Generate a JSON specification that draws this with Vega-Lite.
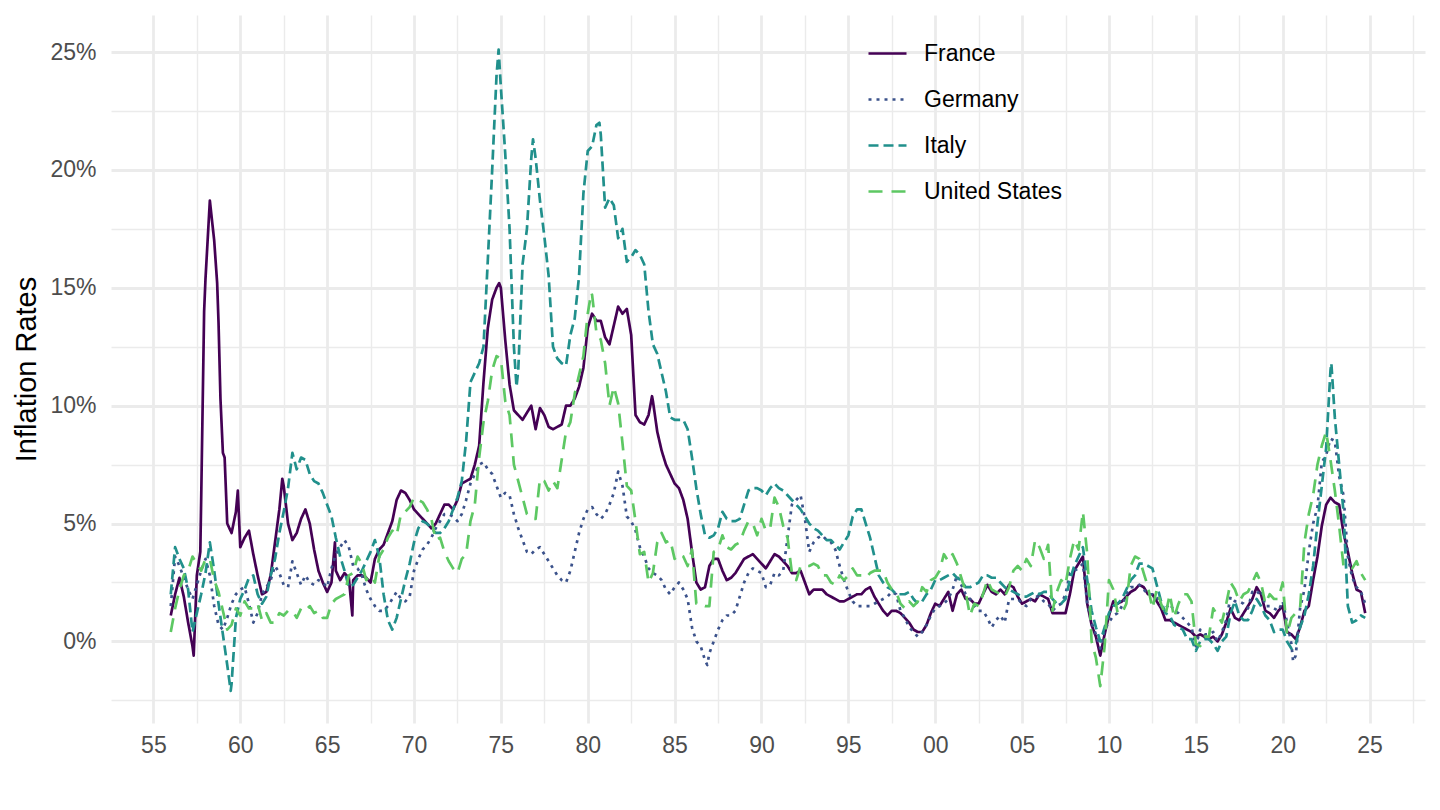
{
"$schema":"https://vega.github.io/schema/vega-lite/v6.json",
"width":1314,"height":708,
"autosize":{"type":"none"},
"padding":{"left":111,"top":15,"right":15,"bottom":87},
"background":"white",
"config":{"view":{"stroke":null},"font":"Liberation Sans"},
"data":{"values":[
{"t":1956.00,"France":1.1,"Germany":1.5,"Italy":2.0,"United States":0.4},
{"t":1956.25,"France":2.0,"Germany":3.6,"Italy":4.0,"United States":1.4},
{"t":1956.50,"France":2.7,"Germany":3.2,"Italy":3.5,"United States":2.2},
{"t":1956.75,"France":1.9,"Germany":2.7,"Italy":3.1,"United States":2.8},
{"t":1957.00,"France":0.8,"Germany":2.2,"Italy":2.2,"United States":3.0},
{"t":1957.25,"France":-0.2,"Germany":1.8,"Italy":0.4,"United States":3.6},
{"t":1957.50,"France":2.8,"Germany":2.4,"Italy":1.2,"United States":3.3},
{"t":1957.75,"France":6.0,"Germany":3.0,"Italy":2.0,"United States":3.0},
{"t":1958.00,"France":15.4,"Germany":3.5,"Italy":2.9,"United States":3.5},
{"t":1958.25,"France":18.7,"Germany":2.8,"Italy":4.2,"United States":3.5},
{"t":1958.50,"France":17.0,"Germany":1.5,"Italy":3.0,"United States":2.6},
{"t":1958.75,"France":13.5,"Germany":0.7,"Italy":1.6,"United States":2.1},
{"t":1959.00,"France":8.0,"Germany":0.5,"Italy":0.3,"United States":1.3},
{"t":1959.25,"France":5.0,"Germany":1.0,"Italy":-1.0,"United States":0.5},
{"t":1959.50,"France":4.6,"Germany":1.6,"Italy":-1.8,"United States":0.7},
{"t":1959.75,"France":5.5,"Germany":2.0,"Italy":1.0,"United States":1.4},
{"t":1960.00,"France":4.0,"Germany":2.2,"Italy":1.8,"United States":1.1},
{"t":1960.25,"France":4.4,"Germany":2.3,"Italy":2.2,"United States":1.7},
{"t":1960.50,"France":4.7,"Germany":1.6,"Italy":2.7,"United States":1.4},
{"t":1960.75,"France":3.7,"Germany":0.8,"Italy":2.8,"United States":1.4},
{"t":1961.00,"France":2.8,"Germany":1.2,"Italy":2.0,"United States":1.6},
{"t":1961.25,"France":2.0,"Germany":2.0,"Italy":1.6,"United States":0.9},
{"t":1961.50,"France":2.1,"Germany":2.3,"Italy":1.9,"United States":1.2},
{"t":1961.75,"France":2.8,"Germany":2.6,"Italy":2.8,"United States":0.8},
{"t":1962.00,"France":4.2,"Germany":3.2,"Italy":3.5,"United States":0.8},
{"t":1962.25,"France":5.6,"Germany":2.9,"Italy":4.6,"United States":1.2},
{"t":1962.50,"France":6.6,"Germany":2.4,"Italy":5.5,"United States":1.1},
{"t":1962.75,"France":5.0,"Germany":2.3,"Italy":6.5,"United States":1.3},
{"t":1963.00,"France":4.3,"Germany":3.4,"Italy":8.0,"United States":1.3},
{"t":1963.25,"France":4.6,"Germany":2.9,"Italy":7.3,"United States":1.0},
{"t":1963.50,"France":5.2,"Germany":2.4,"Italy":7.8,"United States":1.4},
{"t":1963.75,"France":5.6,"Germany":2.8,"Italy":7.7,"United States":1.3},
{"t":1964.00,"France":5.0,"Germany":2.5,"Italy":7.1,"United States":1.5},
{"t":1964.25,"France":3.9,"Germany":2.4,"Italy":6.8,"United States":1.2},
{"t":1964.50,"France":3.0,"Germany":2.6,"Italy":6.7,"United States":1.3},
{"t":1964.75,"France":2.5,"Germany":2.5,"Italy":6.3,"United States":1.0},
{"t":1965.00,"France":2.1,"Germany":2.3,"Italy":5.8,"United States":1.0},
{"t":1965.25,"France":2.5,"Germany":3.1,"Italy":5.3,"United States":1.6},
{"t":1965.50,"France":3.0,"Germany":3.7,"Italy":4.4,"United States":1.8},
{"t":1965.75,"France":2.6,"Germany":4.0,"Italy":3.6,"United States":1.9},
{"t":1966.00,"France":2.9,"Germany":4.3,"Italy":3.0,"United States":2.0},
{"t":1966.25,"France":2.7,"Germany":4.0,"Italy":2.3,"United States":2.8},
{"t":1966.50,"France":2.6,"Germany":3.2,"Italy":2.4,"United States":2.9},
{"t":1966.75,"France":2.8,"Germany":3.1,"Italy":2.7,"United States":3.6},
{"t":1967.00,"France":2.8,"Germany":2.8,"Italy":3.0,"United States":3.3},
{"t":1967.25,"France":2.7,"Germany":2.2,"Italy":3.4,"United States":2.6},
{"t":1967.50,"France":2.5,"Germany":1.8,"Italy":3.8,"United States":2.8},
{"t":1967.75,"France":3.5,"Germany":1.5,"Italy":4.3,"United States":2.5},
{"t":1968.00,"France":3.9,"Germany":1.3,"Italy":3.6,"United States":3.6},
{"t":1968.25,"France":4.1,"Germany":1.3,"Italy":2.0,"United States":3.9},
{"t":1968.50,"France":4.6,"Germany":1.5,"Italy":0.9,"United States":4.4},
{"t":1968.75,"France":5.1,"Germany":1.8,"Italy":0.5,"United States":4.7},
{"t":1969.00,"France":6.0,"Germany":2.1,"Italy":1.0,"United States":4.5},
{"t":1969.25,"France":6.4,"Germany":1.8,"Italy":1.8,"United States":5.4},
{"t":1969.50,"France":6.3,"Germany":1.7,"Italy":2.6,"United States":5.5},
{"t":1969.75,"France":6.0,"Germany":1.9,"Italy":3.3,"United States":5.7},
{"t":1970.00,"France":5.6,"Germany":3.0,"Italy":4.2,"United States":6.1},
{"t":1970.25,"France":5.4,"Germany":3.5,"Italy":4.8,"United States":6.0},
{"t":1970.50,"France":5.2,"Germany":3.9,"Italy":5.1,"United States":5.9},
{"t":1970.75,"France":5.0,"Germany":4.1,"Italy":5.0,"United States":5.6},
{"t":1971.00,"France":4.8,"Germany":4.4,"Italy":4.8,"United States":5.2},
{"t":1971.25,"France":5.0,"Germany":4.8,"Italy":4.6,"United States":4.3},
{"t":1971.50,"France":5.4,"Germany":5.1,"Italy":4.6,"United States":4.4},
{"t":1971.75,"France":5.8,"Germany":5.4,"Italy":4.8,"United States":3.8},
{"t":1972.00,"France":5.8,"Germany":5.4,"Italy":5.1,"United States":3.4},
{"t":1972.25,"France":5.6,"Germany":5.3,"Italy":5.6,"United States":3.1},
{"t":1972.50,"France":6.0,"Germany":5.1,"Italy":6.1,"United States":2.9},
{"t":1972.75,"France":6.7,"Germany":5.4,"Italy":6.8,"United States":3.5},
{"t":1973.00,"France":6.8,"Germany":6.0,"Italy":8.5,"United States":3.7},
{"t":1973.25,"France":6.9,"Germany":6.7,"Italy":11.0,"United States":5.1},
{"t":1973.50,"France":7.5,"Germany":7.1,"Italy":11.4,"United States":5.8},
{"t":1973.75,"France":8.3,"Germany":7.5,"Italy":11.8,"United States":7.8},
{"t":1974.00,"France":11.0,"Germany":7.6,"Italy":12.5,"United States":9.3},
{"t":1974.25,"France":13.3,"Germany":7.3,"Italy":16.2,"United States":10.2},
{"t":1974.50,"France":14.5,"Germany":7.1,"Italy":20.0,"United States":11.5},
{"t":1974.75,"France":15.0,"Germany":6.6,"Italy":24.0,"United States":12.1},
{"t":1975.00,"France":15.0,"Germany":6.1,"Italy":23.5,"United States":12.0},
{"t":1975.25,"France":12.8,"Germany":6.3,"Italy":20.7,"United States":10.2},
{"t":1975.50,"France":10.9,"Germany":6.2,"Italy":17.5,"United States":9.6},
{"t":1975.75,"France":9.8,"Germany":5.4,"Italy":12.5,"United States":7.5},
{"t":1976.00,"France":9.6,"Germany":4.8,"Italy":11.5,"United States":6.8},
{"t":1976.25,"France":9.4,"Germany":4.3,"Italy":16.0,"United States":6.1},
{"t":1976.50,"France":9.7,"Germany":3.8,"Italy":17.5,"United States":5.4},
{"t":1976.75,"France":10.0,"Germany":3.7,"Italy":20.5,"United States":5.2},
{"t":1977.00,"France":9.0,"Germany":3.9,"Italy":20.5,"United States":5.2},
{"t":1977.25,"France":9.9,"Germany":4.0,"Italy":18.7,"United States":6.9},
{"t":1977.50,"France":9.6,"Germany":3.7,"Italy":17.2,"United States":6.8},
{"t":1977.75,"France":9.1,"Germany":3.4,"Italy":15.5,"United States":6.4},
{"t":1978.00,"France":9.0,"Germany":3.1,"Italy":12.5,"United States":6.8},
{"t":1978.25,"France":9.1,"Germany":2.8,"Italy":12.0,"United States":6.5},
{"t":1978.50,"France":9.2,"Germany":2.6,"Italy":11.8,"United States":7.7},
{"t":1978.75,"France":10.0,"Germany":2.5,"Italy":11.7,"United States":8.9},
{"t":1979.00,"France":10.0,"Germany":3.0,"Italy":13.0,"United States":9.3},
{"t":1979.25,"France":10.3,"Germany":3.8,"Italy":13.7,"United States":10.5},
{"t":1979.50,"France":10.8,"Germany":4.6,"Italy":15.5,"United States":11.3},
{"t":1979.75,"France":11.6,"Germany":5.2,"Italy":19.0,"United States":12.1},
{"t":1980.00,"France":13.3,"Germany":5.6,"Italy":20.8,"United States":13.9},
{"t":1980.25,"France":13.9,"Germany":5.7,"Italy":21.0,"United States":14.7},
{"t":1980.50,"France":13.6,"Germany":5.4,"Italy":21.9,"United States":13.1},
{"t":1980.75,"France":13.6,"Germany":5.2,"Italy":21.5,"United States":12.8},
{"t":1981.00,"France":12.9,"Germany":5.4,"Italy":18.4,"United States":11.8},
{"t":1981.25,"France":12.6,"Germany":5.8,"Italy":18.8,"United States":10.0},
{"t":1981.50,"France":13.4,"Germany":6.3,"Italy":18.5,"United States":10.8},
{"t":1981.75,"France":14.2,"Germany":7.2,"Italy":17.1,"United States":10.1},
{"t":1982.00,"France":13.9,"Germany":6.6,"Italy":17.5,"United States":8.4},
{"t":1982.25,"France":14.1,"Germany":5.3,"Italy":16.1,"United States":6.6},
{"t":1982.50,"France":13.0,"Germany":5.1,"Italy":16.3,"United States":6.4},
{"t":1982.75,"France":9.6,"Germany":4.7,"Italy":16.6,"United States":5.1},
{"t":1983.00,"France":9.3,"Germany":4.0,"Italy":16.4,"United States":3.7},
{"t":1983.25,"France":9.2,"Germany":3.6,"Italy":16.0,"United States":3.8},
{"t":1983.50,"France":9.6,"Germany":3.1,"Italy":14.0,"United States":2.5},
{"t":1983.75,"France":10.2,"Germany":2.9,"Italy":12.6,"United States":2.9},
{"t":1984.00,"France":8.9,"Germany":2.8,"Italy":12.2,"United States":4.2},
{"t":1984.25,"France":8.1,"Germany":2.6,"Italy":11.4,"United States":4.6},
{"t":1984.50,"France":7.5,"Germany":2.2,"Italy":10.6,"United States":4.2},
{"t":1984.75,"France":7.1,"Germany":2.0,"Italy":9.5,"United States":4.3},
{"t":1985.00,"France":6.7,"Germany":2.3,"Italy":9.4,"United States":3.5},
{"t":1985.25,"France":6.5,"Germany":2.5,"Italy":9.4,"United States":3.7},
{"t":1985.50,"France":6.0,"Germany":2.2,"Italy":9.4,"United States":3.6},
{"t":1985.75,"France":5.2,"Germany":1.8,"Italy":9.0,"United States":3.2},
{"t":1986.00,"France":3.8,"Germany":0.6,"Italy":7.8,"United States":3.9},
{"t":1986.25,"France":2.5,"Germany":0.0,"Italy":6.5,"United States":1.6},
{"t":1986.50,"France":2.2,"Germany":-0.2,"Italy":5.4,"United States":1.6},
{"t":1986.75,"France":2.3,"Germany":-0.8,"Italy":4.5,"United States":1.5},
{"t":1987.00,"France":3.2,"Germany":-0.5,"Italy":4.4,"United States":1.5},
{"t":1987.25,"France":3.5,"Germany":0.0,"Italy":4.5,"United States":3.8},
{"t":1987.50,"France":3.5,"Germany":0.5,"Italy":4.8,"United States":3.9},
{"t":1987.75,"France":3.0,"Germany":0.9,"Italy":5.5,"United States":4.5},
{"t":1988.00,"France":2.6,"Germany":1.1,"Italy":5.2,"United States":4.0},
{"t":1988.25,"France":2.7,"Germany":1.1,"Italy":5.1,"United States":3.9},
{"t":1988.50,"France":2.9,"Germany":1.3,"Italy":5.1,"United States":4.1},
{"t":1988.75,"France":3.2,"Germany":1.9,"Italy":5.2,"United States":4.2},
{"t":1989.00,"France":3.5,"Germany":2.5,"Italy":5.8,"United States":4.7},
{"t":1989.25,"France":3.6,"Germany":2.9,"Italy":6.4,"United States":5.1},
{"t":1989.50,"France":3.7,"Germany":3.1,"Italy":6.5,"United States":5.0},
{"t":1989.75,"France":3.5,"Germany":3.0,"Italy":6.5,"United States":4.5},
{"t":1990.00,"France":3.3,"Germany":2.9,"Italy":6.4,"United States":5.2},
{"t":1990.25,"France":3.1,"Germany":2.3,"Italy":6.2,"United States":4.7},
{"t":1990.50,"France":3.4,"Germany":2.4,"Italy":6.5,"United States":4.8},
{"t":1990.75,"France":3.7,"Germany":2.9,"Italy":6.7,"United States":6.1},
{"t":1991.00,"France":3.6,"Germany":2.8,"Italy":6.5,"United States":5.7},
{"t":1991.25,"France":3.4,"Germany":3.0,"Italy":6.4,"United States":4.9},
{"t":1991.50,"France":3.2,"Germany":4.4,"Italy":6.2,"United States":4.4},
{"t":1991.75,"France":2.9,"Germany":5.8,"Italy":6.0,"United States":2.9},
{"t":1992.00,"France":2.9,"Germany":6.0,"Italy":5.8,"United States":2.6},
{"t":1992.25,"France":3.0,"Germany":6.2,"Italy":5.6,"United States":3.2},
{"t":1992.50,"France":2.5,"Germany":5.2,"Italy":5.3,"United States":3.2},
{"t":1992.75,"France":2.0,"Germany":3.8,"Italy":5.0,"United States":3.2},
{"t":1993.00,"France":2.2,"Germany":4.2,"Italy":4.8,"United States":3.3},
{"t":1993.25,"France":2.2,"Germany":4.4,"Italy":4.7,"United States":3.2},
{"t":1993.50,"France":2.2,"Germany":4.5,"Italy":4.5,"United States":2.8},
{"t":1993.75,"France":2.0,"Germany":4.3,"Italy":4.3,"United States":2.8},
{"t":1994.00,"France":1.9,"Germany":4.2,"Italy":4.3,"United States":2.5},
{"t":1994.25,"France":1.8,"Germany":3.9,"Italy":4.1,"United States":2.4},
{"t":1994.50,"France":1.7,"Germany":3.2,"Italy":3.9,"United States":2.8},
{"t":1994.75,"France":1.7,"Germany":2.6,"Italy":4.2,"United States":2.6},
{"t":1995.00,"France":1.8,"Germany":2.1,"Italy":4.5,"United States":2.8},
{"t":1995.25,"France":1.9,"Germany":1.7,"Italy":5.3,"United States":3.1},
{"t":1995.50,"France":2.0,"Germany":1.5,"Italy":5.6,"United States":2.8},
{"t":1995.75,"France":2.0,"Germany":1.5,"Italy":5.6,"United States":2.8},
{"t":1996.00,"France":2.2,"Germany":1.5,"Italy":5.0,"United States":2.7},
{"t":1996.25,"France":2.3,"Germany":1.5,"Italy":4.4,"United States":2.9},
{"t":1996.50,"France":1.9,"Germany":1.6,"Italy":3.6,"United States":3.0},
{"t":1996.75,"France":1.6,"Germany":1.7,"Italy":2.8,"United States":3.0},
{"t":1997.00,"France":1.3,"Germany":1.8,"Italy":2.5,"United States":3.0},
{"t":1997.25,"France":1.1,"Germany":1.9,"Italy":2.3,"United States":2.5},
{"t":1997.50,"France":1.3,"Germany":2.1,"Italy":2.2,"United States":2.2},
{"t":1997.75,"France":1.3,"Germany":2.0,"Italy":2.0,"United States":2.1},
{"t":1998.00,"France":1.2,"Germany":1.3,"Italy":2.0,"United States":1.6},
{"t":1998.25,"France":1.0,"Germany":1.0,"Italy":2.0,"United States":1.4},
{"t":1998.50,"France":0.8,"Germany":0.6,"Italy":2.1,"United States":1.7},
{"t":1998.75,"France":0.5,"Germany":0.4,"Italy":1.8,"United States":1.5},
{"t":1999.00,"France":0.4,"Germany":0.2,"Italy":1.6,"United States":1.7},
{"t":1999.25,"France":0.4,"Germany":0.4,"Italy":1.7,"United States":2.3},
{"t":1999.50,"France":0.7,"Germany":0.7,"Italy":2.0,"United States":2.1},
{"t":1999.75,"France":1.2,"Germany":1.1,"Italy":2.2,"United States":2.6},
{"t":2000.00,"France":1.6,"Germany":1.4,"Italy":2.6,"United States":2.7},
{"t":2000.25,"France":1.5,"Germany":1.5,"Italy":2.6,"United States":3.0},
{"t":2000.50,"France":1.8,"Germany":1.6,"Italy":2.7,"United States":3.7},
{"t":2000.75,"France":2.1,"Germany":1.8,"Italy":2.8,"United States":3.4},
{"t":2001.00,"France":1.3,"Germany":2.2,"Italy":2.9,"United States":3.7},
{"t":2001.25,"France":2.0,"Germany":2.8,"Italy":2.7,"United States":3.3},
{"t":2001.50,"France":2.2,"Germany":2.4,"Italy":2.6,"United States":2.7},
{"t":2001.75,"France":1.8,"Germany":2.0,"Italy":2.3,"United States":2.1},
{"t":2002.00,"France":1.8,"Germany":1.8,"Italy":2.3,"United States":1.1},
{"t":2002.25,"France":1.6,"Germany":1.5,"Italy":2.4,"United States":1.6},
{"t":2002.50,"France":1.6,"Germany":1.3,"Italy":2.5,"United States":1.5},
{"t":2002.75,"France":2.0,"Germany":1.3,"Italy":2.8,"United States":2.0},
{"t":2003.00,"France":2.4,"Germany":1.0,"Italy":2.8,"United States":2.6},
{"t":2003.25,"France":2.1,"Germany":0.6,"Italy":2.7,"United States":2.2},
{"t":2003.50,"France":2.0,"Germany":0.9,"Italy":2.7,"United States":2.1},
{"t":2003.75,"France":2.2,"Germany":1.1,"Italy":2.5,"United States":2.0},
{"t":2004.00,"France":2.0,"Germany":0.8,"Italy":2.3,"United States":1.9},
{"t":2004.25,"France":2.4,"Germany":1.8,"Italy":2.2,"United States":2.3},
{"t":2004.50,"France":2.3,"Germany":1.8,"Italy":2.1,"United States":3.0},
{"t":2004.75,"France":1.9,"Germany":1.8,"Italy":2.0,"United States":3.2},
{"t":2005.00,"France":1.6,"Germany":1.6,"Italy":1.9,"United States":3.0},
{"t":2005.25,"France":1.7,"Germany":1.5,"Italy":1.9,"United States":3.5},
{"t":2005.50,"France":1.8,"Germany":1.8,"Italy":2.0,"United States":3.2},
{"t":2005.75,"France":1.7,"Germany":1.9,"Italy":2.1,"United States":4.3},
{"t":2006.00,"France":2.0,"Germany":1.9,"Italy":2.0,"United States":4.0},
{"t":2006.25,"France":1.9,"Germany":1.7,"Italy":2.1,"United States":3.5},
{"t":2006.50,"France":1.8,"Germany":1.6,"Italy":2.1,"United States":4.1},
{"t":2006.75,"France":1.2,"Germany":1.3,"Italy":1.8,"United States":1.3},
{"t":2007.00,"France":1.2,"Germany":1.5,"Italy":1.6,"United States":2.1},
{"t":2007.25,"France":1.2,"Germany":1.6,"Italy":1.6,"United States":2.6},
{"t":2007.50,"France":1.2,"Germany":2.0,"Italy":1.8,"United States":2.4},
{"t":2007.75,"France":2.0,"Germany":2.9,"Italy":2.6,"United States":3.5},
{"t":2008.00,"France":3.0,"Germany":3.0,"Italy":3.2,"United States":4.3},
{"t":2008.25,"France":3.3,"Germany":3.1,"Italy":3.6,"United States":3.9},
{"t":2008.50,"France":3.6,"Germany":3.3,"Italy":4.0,"United States":5.5},
{"t":2008.75,"France":1.6,"Germany":1.6,"Italy":2.6,"United States":3.7},
{"t":2009.00,"France":0.7,"Germany":0.8,"Italy":1.3,"United States":0.0},
{"t":2009.25,"France":0.2,"Germany":0.3,"Italy":0.6,"United States":-0.7},
{"t":2009.50,"France":-0.6,"Germany":-0.3,"Italy":0.0,"United States":-1.9},
{"t":2009.75,"France":0.3,"Germany":0.5,"Italy":0.6,"United States":-0.2},
{"t":2010.00,"France":1.1,"Germany":0.8,"Italy":1.2,"United States":2.6},
{"t":2010.25,"France":1.7,"Germany":1.1,"Italy":1.5,"United States":2.2},
{"t":2010.50,"France":1.6,"Germany":1.2,"Italy":1.6,"United States":1.2},
{"t":2010.75,"France":1.7,"Germany":1.5,"Italy":1.8,"United States":1.2},
{"t":2011.00,"France":1.9,"Germany":2.0,"Italy":2.2,"United States":1.6},
{"t":2011.25,"France":2.1,"Germany":2.3,"Italy":2.6,"United States":3.2},
{"t":2011.50,"France":2.2,"Germany":2.3,"Italy":2.8,"United States":3.6},
{"t":2011.75,"France":2.4,"Germany":2.4,"Italy":3.3,"United States":3.5},
{"t":2012.00,"France":2.3,"Germany":2.2,"Italy":3.3,"United States":2.9},
{"t":2012.25,"France":2.0,"Germany":2.0,"Italy":3.2,"United States":2.3},
{"t":2012.50,"France":2.0,"Germany":2.0,"Italy":3.1,"United States":1.4},
{"t":2012.75,"France":1.7,"Germany":1.9,"Italy":2.4,"United States":2.2},
{"t":2013.00,"France":1.4,"Germany":1.5,"Italy":1.7,"United States":1.6},
{"t":2013.25,"France":0.9,"Germany":1.4,"Italy":1.2,"United States":1.1},
{"t":2013.50,"France":0.9,"Germany":1.6,"Italy":1.1,"United States":2.0},
{"t":2013.75,"France":0.8,"Germany":1.3,"Italy":0.7,"United States":1.0},
{"t":2014.00,"France":0.7,"Germany":1.2,"Italy":0.6,"United States":1.6},
{"t":2014.25,"France":0.6,"Germany":1.0,"Italy":0.5,"United States":2.0},
{"t":2014.50,"France":0.5,"Germany":0.8,"Italy":0.1,"United States":2.0},
{"t":2014.75,"France":0.4,"Germany":0.6,"Italy":0.1,"United States":1.7},
{"t":2015.00,"France":0.2,"Germany":-0.2,"Italy":-0.4,"United States":-0.1},
{"t":2015.25,"France":0.3,"Germany":0.5,"Italy":0.0,"United States":-0.2},
{"t":2015.50,"France":0.2,"Germany":0.3,"Italy":0.1,"United States":0.2},
{"t":2015.75,"France":0.1,"Germany":0.3,"Italy":0.1,"United States":0.2},
{"t":2016.00,"France":0.2,"Germany":0.4,"Italy":-0.1,"United States":1.4},
{"t":2016.25,"France":0.0,"Germany":0.0,"Italy":-0.4,"United States":1.1},
{"t":2016.50,"France":0.3,"Germany":0.4,"Italy":0.0,"United States":0.8},
{"t":2016.75,"France":0.8,"Germany":0.9,"Italy":0.2,"United States":1.6},
{"t":2017.00,"France":1.4,"Germany":1.9,"Italy":1.2,"United States":2.5},
{"t":2017.25,"France":1.0,"Germany":1.7,"Italy":1.7,"United States":2.2},
{"t":2017.50,"France":0.9,"Germany":1.7,"Italy":1.1,"United States":1.7},
{"t":2017.75,"France":1.2,"Germany":1.6,"Italy":0.9,"United States":2.0},
{"t":2018.00,"France":1.5,"Germany":1.4,"Italy":0.9,"United States":2.1},
{"t":2018.25,"France":1.8,"Germany":2.1,"Italy":1.3,"United States":2.5},
{"t":2018.50,"France":2.3,"Germany":2.0,"Italy":1.8,"United States":2.9},
{"t":2018.75,"France":2.0,"Germany":2.2,"Italy":1.5,"United States":2.5},
{"t":2019.00,"France":1.3,"Germany":1.5,"Italy":1.1,"United States":1.6},
{"t":2019.25,"France":1.2,"Germany":1.5,"Italy":0.9,"United States":2.0},
{"t":2019.50,"France":1.0,"Germany":1.4,"Italy":0.4,"United States":1.8},
{"t":2019.75,"France":1.3,"Germany":1.3,"Italy":0.5,"United States":1.8},
{"t":2020.00,"France":1.5,"Germany":1.7,"Italy":0.5,"United States":2.5},
{"t":2020.25,"France":0.4,"Germany":0.8,"Italy":0.0,"United States":0.3},
{"t":2020.50,"France":0.3,"Germany":-0.1,"Italy":-0.3,"United States":1.0},
{"t":2020.75,"France":0.1,"Germany":-0.6,"Italy":-0.1,"United States":1.2},
{"t":2021.00,"France":0.6,"Germany":1.4,"Italy":0.6,"United States":1.4},
{"t":2021.25,"France":1.3,"Germany":2.2,"Italy":1.1,"United States":4.2},
{"t":2021.50,"France":1.5,"Germany":3.8,"Italy":2.0,"United States":5.4},
{"t":2021.75,"France":2.6,"Germany":5.0,"Italy":3.2,"United States":6.2},
{"t":2022.00,"France":3.6,"Germany":5.7,"Italy":5.0,"United States":7.5},
{"t":2022.25,"France":4.9,"Germany":7.6,"Italy":6.6,"United States":8.3},
{"t":2022.50,"France":5.8,"Germany":7.9,"Italy":8.2,"United States":8.9},
{"t":2022.75,"France":6.1,"Germany":8.6,"Italy":11.5,"United States":7.7},
{"t":2023.00,"France":5.9,"Germany":8.5,"Italy":9.5,"United States":6.4},
{"t":2023.25,"France":5.8,"Germany":7.0,"Italy":7.5,"United States":4.9},
{"t":2023.50,"France":4.6,"Germany":6.2,"Italy":5.5,"United States":3.2},
{"t":2023.75,"France":3.8,"Germany":3.6,"Italy":1.5,"United States":3.2},
{"t":2024.00,"France":2.9,"Germany":2.7,"Italy":0.8,"United States":3.1},
{"t":2024.25,"France":2.2,"Germany":2.3,"Italy":0.9,"United States":3.4},
{"t":2024.50,"France":2.1,"Germany":2.1,"Italy":1.1,"United States":2.9},
{"t":2024.75,"France":1.2,"Germany":1.6,"Italy":1.0,"United States":2.6},
{"t":1957.32,"France":-0.6},
{"t":1957.70,"France":3.8},
{"t":1957.92,"France":14.0},
{"t":1958.67,"France":15.2},
{"t":1958.86,"France":10.3},
{"t":1959.10,"France":7.8},
{"t":1959.86,"France":6.4},
{"t":1962.42,"France":6.9},
{"t":1965.45,"France":4.2},
{"t":1966.45,"France":1.1},
{"t":1974.90,"France":15.2},
{"t":1983.70,"France":10.4},
{"t":1959.45,"Italy":-2.1},
{"t":1974.87,"Italy":25.1},
{"t":1975.90,"Italy":10.8},
{"t":1976.85,"Italy":21.3},
{"t":1980.67,"Italy":22.0},
{"t":2022.80,"Italy":11.8},
{"t":1986.88,"Germany":-1.0},
{"t":2020.60,"Germany":-0.85},
{"t":1980.20,"United States":14.8}
]},
"transform":[
{"fold":["France","Germany","Italy","United States"],"as":["country","rate"]},
{"filter":"isValid(datum.rate)"}
],
"mark":{"type":"line","strokeWidth":2.7,"strokeJoin":"round","strokeCap":"butt"},
"encoding":{
"x":{"field":"t","type":"quantitative","sort":"ascending",
 "scale":{"domain":[1952.56,2028.19],"nice":false,"zero":false},
 "axis":{"title":null,"values":[1955,1957.5,1960,1962.5,1965,1967.5,1970,1972.5,1975,1977.5,1980,1982.5,1985,1987.5,1990,1992.5,1995,1997.5,2000,2002.5,2005,2007.5,2010,2012.5,2015,2017.5,2020,2022.5,2025,2027.5],
  "labelExpr":"datum.value % 5 === 0 ? format(datum.value % 100, '02d') : ''",
  "grid":true,"gridColor":"#EBEBEB",
  "gridWidth":{"condition":{"test":"datum.value % 5 === 0","value":2.8},"value":1.4},
  "domain":false,"ticks":false,"tickSize":0,"labelFontSize":23,"labelColor":"#4D4D4D","labelFont":"Liberation Sans",
  "labelPadding":11,"labelOverlap":false,"labelFlush":false}},
"y":{"field":"rate","type":"quantitative",
 "scale":{"domain":[-3.46,26.57],"nice":false,"zero":false},
 "axis":{"title":"Inflation Rates","values":[-2.5,0,2.5,5,7.5,10,12.5,15,17.5,20,22.5,25],
  "labelExpr":"datum.value % 5 === 0 ? datum.value + '%' : ''",
  "grid":true,"gridColor":"#EBEBEB",
  "gridWidth":{"condition":{"test":"datum.value % 5 === 0","value":2.8},"value":1.4},
  "domain":false,"ticks":false,"tickSize":0,"labelFontSize":23,"labelColor":"#4D4D4D","labelFont":"Liberation Sans",
  "labelPadding":15,"labelOverlap":false,"labelFlush":false,
  "titleFont":"Liberation Sans","titleFontSize":29,"titleFontWeight":"normal","titleColor":"#000000",
  "titleAngle":-90,"titleX":-76,"titleY":354,"titleAlign":"center","titleBaseline":"alphabetic"}},
"color":{"field":"country","type":"nominal",
 "scale":{"domain":["France","Germany","Italy","United States"],"range":["#440154","#3B528B","#21908C","#5DC863"]},
 "legend":{"title":null,"orient":"none","legendX":756,"legendY":18,"padding":0,"labelFontSize":23,"labelColor":"#000000","labelFont":"Liberation Sans","symbolType":"stroke","symbolSize":1444,"symbolStrokeWidth":2.7,"labelOffset":16,"rowPadding":13}},
"strokeDash":{"field":"country","type":"nominal",
 "scale":{"domain":["France","Germany","Italy","United States"],"range":[[1,0],[3,5],[10,5],[14,9]]},
 "legend":{"title":null,"orient":"none","legendX":756,"legendY":18,"padding":0,"labelFontSize":23,"labelColor":"#000000","labelFont":"Liberation Sans","symbolType":"stroke","symbolSize":1444,"symbolStrokeWidth":2.7,"labelOffset":16,"rowPadding":13}}
}
}
